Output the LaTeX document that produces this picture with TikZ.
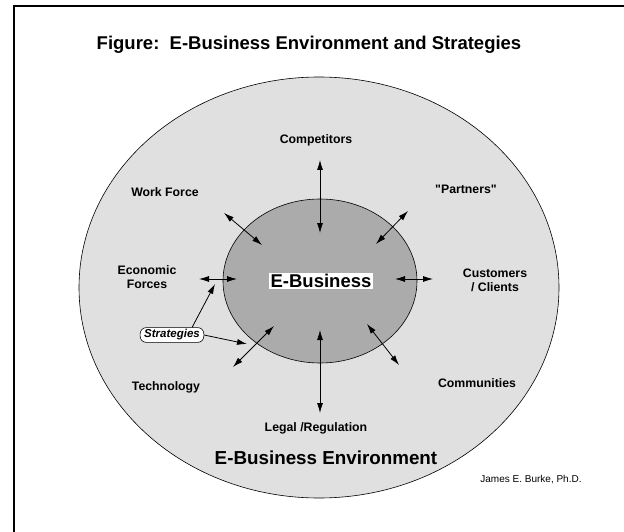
\documentclass[tikz,border=0pt]{standalone}
\usepackage{fontspec}
\setmainfont{Liberation Sans}
\newfontfamily\qfont{Liberation Sans}[Ligatures=TeXOff]
\usetikzlibrary{arrows.meta}
\begin{document}
\begin{tikzpicture}[x=1pt,y=-1pt,
  lab/.style={font=\bfseries\fontsize{12.3}{14}\selectfont, align=center, inner sep=1pt},
  dbl/.style={{Latex[length=10pt,width=6pt]}-{Latex[length=10pt,width=6pt]}, line width=0.8pt},
  sgl/.style={-{Latex[length=10pt,width=6pt]}, line width=0.8pt},
  outerfill/.style={fill=black!12},
  innerfill/.style={fill=black!33}]
\useasboundingbox (0,0) rectangle (624,532);
\fill[white] (0,0) rectangle (624,532);
\draw[line width=2.4pt] (14,532) -- (14,6) -- (624,6);
\node[font=\bfseries\fontsize{18.5}{22}\selectfont] (title) at (309,45) {Figure:\ \ E-Business Environment and Strategies};
% ellipses
\draw[outerfill, line width=0.6pt] (319,287.5) ellipse [x radius=240, y radius=210.5];
\draw[innerfill, line width=0.6pt] (320,281) ellipse [x radius=97, y radius=82];
\node[fill=white, inner sep=1.5pt, font=\bfseries\fontsize{18.5}{21}\selectfont] (eb) at (321,281) {E-Business};
% labels
\node[lab] (comp) at (316,140) {Competitors};
\node[lab] (wf) at (165,192) {Work Force};
\node[lab] (part) at (466,189) {\qfont"Partners"};
\node[lab] (econ) at (147,277) {Economic\\Forces};
\node[lab] (cust) at (495,280) {Customers\\/ Clients};
\node[lab] (tech) at (166,387) {Technology};
\node[lab] (comm) at (477,383) {Communities};
\node[lab] (legal) at (316,428) {Legal /Regulation};
\node[font=\bfseries\fontsize{18.8}{22}\selectfont] (env) at (326,458) {E-Business Environment};
\node[font=\fontsize{10}{12}\selectfont] (author) at (531,480) {James E. Burke, Ph.D.};
\node[draw, rounded corners=6pt, fill=white, line width=0.6pt, inner xsep=4pt, inner ysep=2pt,
      font=\bfseries\itshape\fontsize{11.5}{13}\selectfont] (strat) at (172,335) {Strategies};
% arrow end points
\coordinate (c1) at (320,160); \coordinate (c2) at (320,233);
\coordinate (w1) at (224,213); \coordinate (w2) at (262,245);
\coordinate (p1) at (408,211); \coordinate (p2) at (376,244);
\coordinate (e1) at (199,279); \coordinate (e2) at (237,279);
\coordinate (k1) at (433,279); \coordinate (k2) at (395,279);
\coordinate (t1) at (233,367); \coordinate (t2) at (274,326);
\coordinate (m1) at (399,365); \coordinate (m2) at (367,324);
\coordinate (l1) at (320,413); \coordinate (l2) at (320,330);
\coordinate (s1) at (215,284); \coordinate (s2) at (247,344);
% arrows
\draw[dbl] (c1) -- (c2);
\draw[dbl] (w1) -- (w2);
\draw[dbl] (p1) -- (p2);
\draw[dbl] (e1) -- (e2);
\draw[dbl] (k1) -- (k2);
\draw[dbl] (t1) -- (t2);
\draw[dbl] (m1) -- (m2);
\draw[dbl] (l1) -- (l2);
\draw[sgl] (strat.north east) ++(-12,0) coordinate (sa) -- (s1);
\draw[sgl] (strat.east) -- (s2);
\end{tikzpicture}
\end{document}
